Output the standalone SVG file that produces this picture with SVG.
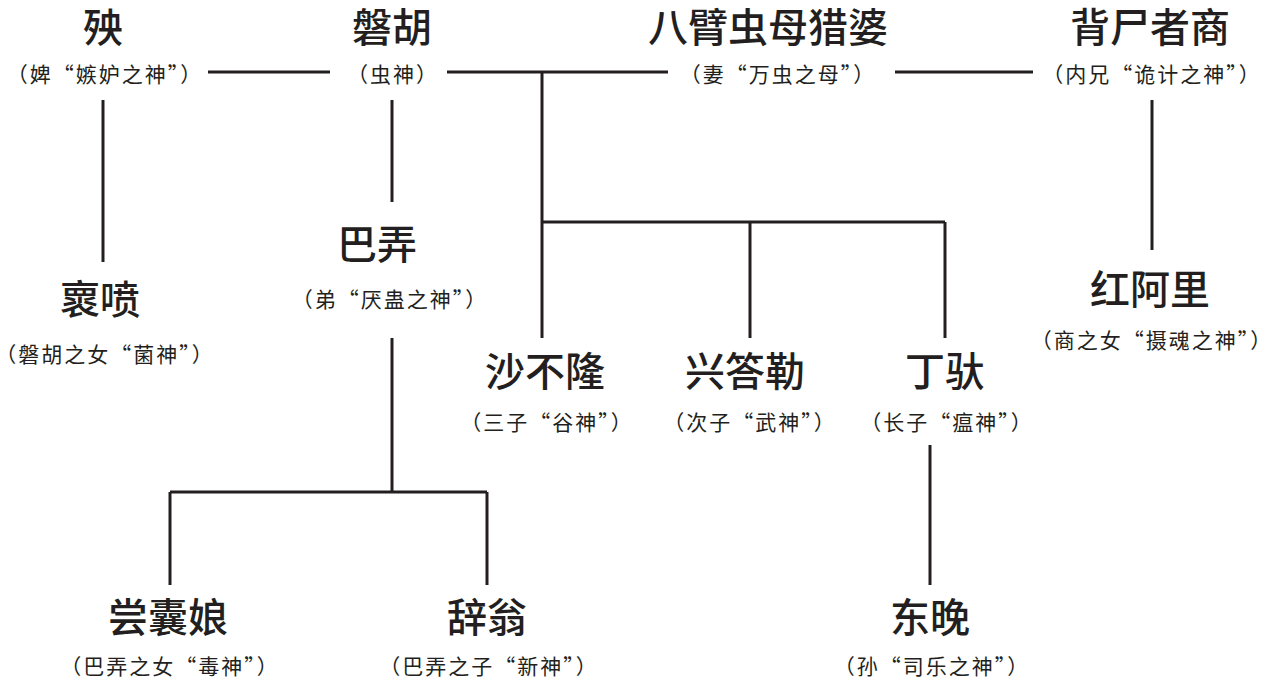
<svg xmlns="http://www.w3.org/2000/svg" width="1267" height="684" viewBox="0 0 1267 684">
<style>
.n{font-family:"Noto Sans CJK SC",sans-serif;font-size:40px;font-weight:500;text-anchor:middle;fill:#231f20}
.s{font-family:"Noto Sans CJK SC",sans-serif;font-size:21px;letter-spacing:2px;text-anchor:middle;fill:#231f20}
#connectors line{stroke:#231f20;stroke-width:3}
</style>
<rect width="1267" height="684" fill="#fff"/>
<g id="connectors">
<line x1="208" y1="72" x2="330" y2="72"/>
<line x1="447" y1="72" x2="668" y2="72"/>
<line x1="895" y1="72" x2="1033" y2="72"/>
<line x1="103" y1="100" x2="103" y2="262"/>
<line x1="392" y1="100" x2="392" y2="202"/>
<line x1="542" y1="72" x2="542" y2="338"/>
<line x1="542" y1="222" x2="945" y2="222"/>
<line x1="750" y1="222" x2="750" y2="338"/>
<line x1="945" y1="222" x2="945" y2="338"/>
<line x1="930" y1="445" x2="930" y2="585"/>
<line x1="392" y1="338" x2="392" y2="492"/>
<line x1="170" y1="492" x2="487" y2="492"/>
<line x1="170" y1="492" x2="170" y2="585"/>
<line x1="487" y1="492" x2="487" y2="585"/>
<line x1="1152" y1="100" x2="1152" y2="250"/>
</g>
<g id="yang"><text class="n" x="103" y="42">殃</text><text class="s" x="105" y="82">（婢“嫉妒之神”）</text></g>
<g id="panhu"><text class="n" x="392" y="42">磐胡</text><text class="s" x="393" y="82">（虫神）</text></g>
<g id="liepo"><text class="n" x="768" y="42">八臂虫母猎婆</text><text class="s" x="778" y="82">（妻“万虫之母”）</text></g>
<g id="shang"><text class="n" x="1150" y="42">背尸者商</text><text class="s" x="1152" y="82">（内兄“诡计之神”）</text></g>
<g id="rangpen"><text class="n" x="100" y="314">褱喷</text><text class="s" x="105" y="362">（磐胡之女“菌神”）</text></g>
<g id="banong"><text class="n" x="377" y="259">巴弄</text><text class="s" x="390" y="307">（弟“厌蛊之神”）</text></g>
<g id="shabulong"><text class="n" x="545" y="386">沙不隆</text><text class="s" x="547" y="430">（三子“谷神”）</text></g>
<g id="xingdale"><text class="n" x="745" y="386">兴答勒</text><text class="s" x="750" y="430">（次子“武神”）</text></g>
<g id="dingtuo"><text class="n" x="945" y="386">丁驮</text><text class="s" x="947" y="430">（长子“瘟神”）</text></g>
<g id="hongali"><text class="n" x="1150" y="304">红阿里</text><text class="s" x="1152" y="348">（商之女“摄魂之神”）</text></g>
<g id="changnangniang"><text class="n" x="168" y="632">尝囊娘</text><text class="s" x="170" y="674">（巴弄之女“毒神”）</text></g>
<g id="ciweng"><text class="n" x="487" y="632">辞翁</text><text class="s" x="489" y="674">（巴弄之子“新神”）</text></g>
<g id="dongwan"><text class="n" x="930" y="632">东晚</text><text class="s" x="932" y="674">（孙“司乐之神”）</text></g>
</svg>
